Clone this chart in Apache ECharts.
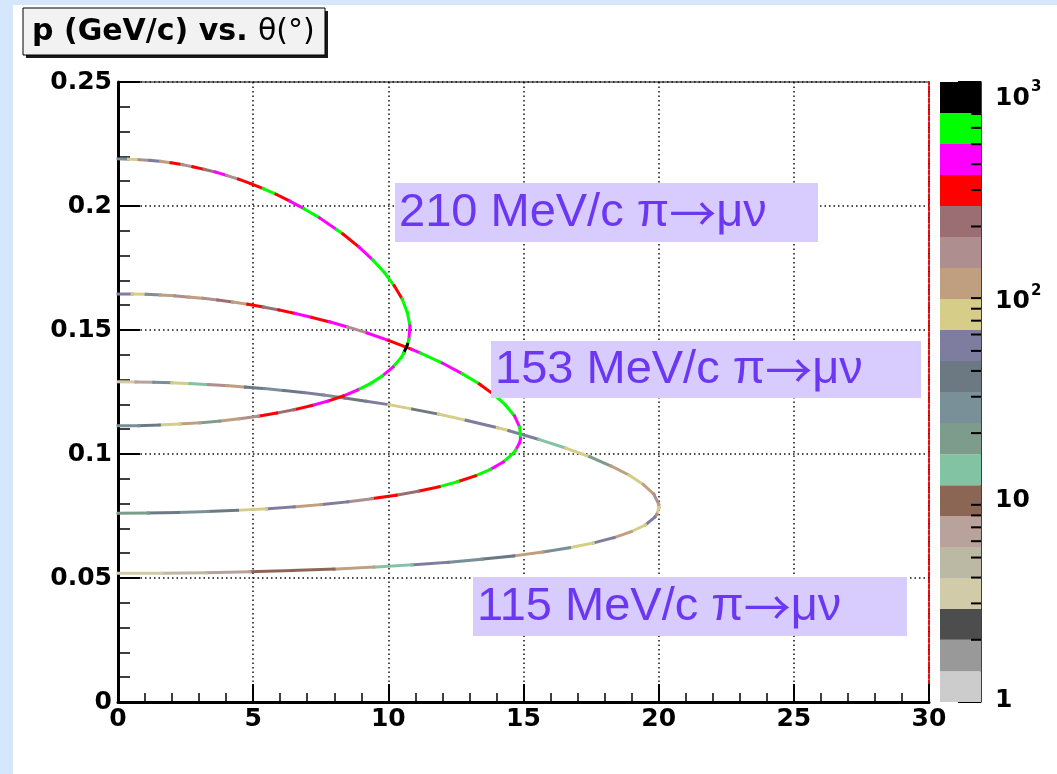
<!DOCTYPE html>
<html>
<head>
<meta charset="utf-8">
<script src="https://cdn.jsdelivr.net/npm/echarts@6/dist/echarts.min.js"></script>
<style>
html,body{margin:0;padding:0;background:#d5e7fb;width:1057px;height:774px;overflow:hidden;}
#bg{position:absolute;left:13px;top:5px;right:0;bottom:0;background:#fff;}
#c{position:absolute;left:0;top:0;width:1057px;height:774px;}
</style>
</head>
<body>
<div id="bg"></div>
<div id="c"></div>
<script>
// ---- data: [theta (deg), p (GeV/c), counts] along each decay curve ----
const curve210 = [
[0,0.2190,27],[0.39,0.2189,75],[0.78,0.2187,150],[1.17,0.2184,53],[1.57,0.2180,105],
[1.96,0.2174,300],[2.36,0.2167,150],[2.77,0.2158,300],[3.18,0.2148,210],[3.60,0.2137,420],
[4.02,0.2123,150],[4.46,0.2108,300],[4.91,0.2090,300],[5.37,0.2070,600],[5.85,0.2047,300],
[6.35,0.2020,420],[6.88,0.1989,600],[7.46,0.1952,420],[8.09,0.1905,600],[8.32,0.1887,300],
[8.91,0.1835,420],[9.42,0.1783,600],[9.86,0.1731,600],[10.22,0.1678,300],[10.51,0.1625,600],
[10.70,0.1571,600],[10.80,0.1517,420],[10.76,0.1462,600],[10.71,0.1442,850],[10.57,0.1407,600],
[10.49,0.1391,600],[10.17,0.1350,420],[9.78,0.1315,600],[9.34,0.1284,600],[8.86,0.1258,420],
[8.33,0.1234,300],[7.76,0.1213,420],[7.16,0.1195,300],[6.53,0.1179,210],[5.87,0.1165,300],
[5.19,0.1152,150],[4.49,0.1142,105],[3.77,0.1133,19],[3.03,0.1126,105],[2.29,0.1121,75],
[1.53,0.1117,38],[0.77,0.1114,27],[0,0.1114,27]
];
const curve153 = [
[0,0.1645,53],[0.52,0.1645,75],[1.04,0.1644,27],[1.56,0.1641,105],[2.09,0.1638,150],
[2.61,0.1633,105],[3.15,0.1628,150],[3.69,0.1621,210],[4.24,0.1613,105],[4.80,0.1604,300],
[5.37,0.1593,210],[5.95,0.1581,300],[6.55,0.1567,420],[7.17,0.1551,300],[7.82,0.1533,420],
[8.50,0.1512,150],[9.22,0.1488,420],[10.00,0.1458,300],[10.87,0.1422,420],[11.19,0.1407,600],
[12.01,0.1366,420],[12.73,0.1324,600],[13.37,0.1282,300],[13.90,0.1240,600],[14.34,0.1197,600],
[14.67,0.1153,420],[14.86,0.1108,600],[14.89,0.1062,420],[14.86,0.1046,420],[14.71,0.1016,600],
[14.62,0.1003,600],[14.25,0.0968,420],[13.78,0.0938,600],[13.22,0.0912,300],[12.58,0.0889,600],
[11.88,0.0868,300],[11.11,0.0850,210],[10.29,0.0834,300],[9.41,0.0820,150],[8.50,0.0807,53],
[7.52,0.0796,105],[6.52,0.0787,53],[5.49,0.0779,75],[4.42,0.0773,38],[3.34,0.0768,27],
[2.23,0.0764,38],[1.12,0.0762,19],[0,0.0761,19]
];
const curve115 = [
[0,0.1291,3.4],[0.66,0.1290,6.7],[1.32,0.1289,27],[1.99,0.1287,75],[2.66,0.1284,13],
[3.34,0.1280,150],[4.02,0.1276,105],[4.71,0.1270,38],[5.41,0.1264,27],[6.13,0.1256,38],
[6.86,0.1248,53],[7.61,0.1238,27],[8.38,0.1226,38],[9.18,0.1213,53],[10.02,0.1199,75],
[10.90,0.1181,38],[11.85,0.1161,75],[12.88,0.1136,53],[14.03,0.1106,75],[14.46,0.1094,53],
[15.56,0.1059,13],[16.56,0.1024,75],[17.45,0.0989,19],[18.23,0.0952,105],[18.90,0.0915,75],
[19.43,0.0877,105],[19.82,0.0838,150],[20.00,0.0798,105],[20.01,0.0784,75],[19.93,0.0757,150],
[19.86,0.0746,53],[19.51,0.0714,75],[18.99,0.0687,105],[18.35,0.0663,53],[17.58,0.0641,75],
[16.70,0.0622,27],[15.72,0.0605,105],[14.64,0.0589,38],[13.47,0.0576,27],[12.21,0.0563,53],
[10.87,0.0553,13],[9.46,0.0544,105],[7.99,0.0536,9.4],[6.46,0.0530,9.4],[4.88,0.0525,6.7],
[3.28,0.0521,4.7],[1.64,0.0519,3.4],[0,0.0519,3.4]
];
// colour scale (log z from 1 to 1000, 20 levels)
const zLevels = [1,1.41,2,2.82,3.98,5.62,7.94,11.2,15.8,22.4,31.6,44.7,63.1,89.1,126,178,251,355,501,708,1000];
const zPalette = ['#cccccc','#999999','#4d4d4d','#d1cba9','#bbb8a4','#b9a19c','#8c6655','#82c3a4','#7e9c8c','#7a9099',
                  '#6c7982','#7f7d9f','#d5cd88','#c09f80','#ae8e8f','#9a6e72','#ff0000','#ff00ff','#00ff00','#000000'];
const zMinorTicks = [2,3,4,5,6,7,8,9,20,30,40,50,60,70,80,90,200,300,400,500,600,700,800,900];
const zTickValues = [1,10,100,1000];
const zTickBase = ['1','10','10','10'];
const zTickExp = ['','','2','3'];
const annotations = [['210 MeV/c π','→','μν'],['153 MeV/c π','→','μν'],['115 MeV/c π','→','μν']];
const titleMain = 'p (GeV/c) vs. ';
const titleTail = 'θ(°)';

// ---- styles / layout (not data) ----
const zLabelShift = [-2, 5, 13, 16];   // ROOT-like vertical label offsets, px
function zColor(v){
  for (let i = 0; i < zPalette.length; i++) if (v < zLevels[i+1]) return zPalette[i];
  return zPalette[zPalette.length-1];
}
function segments(curve){
  const out = [];
  for (let i = 0; i < curve.length-1; i++) out.push([curve[i][0],curve[i][1],curve[i+1][0],curve[i+1][1],curve[i][2]]);
  return out;
}
const segData = [].concat(segments(curve115), segments(curve153), segments(curve210));
const bandData = zLevels.slice(0,-1).map((lo,i)=>[0,lo,1,zLevels[i+1],i]);
const minorData = zMinorTicks.map(v=>[1,v]);
const zLabelData = zTickValues.map((v,i)=>[1,v,i]);

const FONT = '"DejaVu Sans", sans-serif';
const chart = echarts.init(document.getElementById('c'), null, {renderer:'canvas'});
const annoBoxes = [
  {x:395,y:183,w:423,h:59},
  {x:491,y:341,w:430,h:57},
  {x:473,y:577,w:434,h:59}
];
const graphics = [
  {type:'rect', shape:{x:26,y:11,width:302,height:47}, style:{fill:'#1a1a1a'}, z:100},
  {type:'rect', shape:{x:23,y:8,width:302,height:47}, style:{fill:'#f2f2f2', stroke:'#000', lineWidth:1}, z:101},
  {type:'text', x:32, y:32, z:102, style:{text:'{b|'+titleMain+'}{n|'+titleTail+'}', verticalAlign:'middle',
     rich:{b:{fontSize:30,fontWeight:'bold',fontFamily:'DejaVu Sans',fill:'#000'},
           n:{fontSize:30,fontWeight:'normal',fontFamily:'DejaVu Sans',fill:'#000'}}}}
];
annoBoxes.forEach((b,i)=>{
  const t = annotations[i];
  graphics.push({type:'rect', shape:{x:b.x,y:b.y,width:b.w,height:b.h}, style:{fill:'#d8cbfd'}, z:100});
  graphics.push({type:'text', x:b.x+4, y:b.y+b.h/2+1, z:101,
     style:{text:'{a|'+t[0]+'}{r|'+t[1]+'}{a|'+t[2]+'}', verticalAlign:'middle',
       rich:{a:{fontSize:47, fontFamily:'Liberation Sans', fill:'#6c37f3'},
             r:{fontSize:47, fontFamily:'Noto Sans CJK SC', fill:'#6c37f3'}}}});
});

const option = {
  animation:false,
  backgroundColor:'transparent',
  graphic: graphics,
  grid:[
    {left:118, top:82, width:811, height:620, show:true, borderColor:'#000', borderWidth:1, backgroundColor:'transparent'},
    {left:940, top:82, width:41, height:620}
  ],
  xAxis:[
    {gridIndex:0, type:'value', min:0, max:30, interval:5,
     axisLine:{show:true, onZero:false, lineStyle:{color:'#000', width:3}},
     axisTick:{show:true, inside:true, length:18, lineStyle:{color:'#000', width:2}},
     minorTick:{show:true, splitNumber:5, length:9, lineStyle:{color:'#000', width:1.5}},
     axisLabel:{color:'#000', fontFamily:FONT, fontWeight:'bold', fontSize:25, margin:5},
     splitLine:{show:true, lineStyle:{color:'#111', width:1.5, type:[1.5,3]}}},
    {gridIndex:1, type:'value', min:0, max:1, show:false}
  ],
  yAxis:[
    {gridIndex:0, type:'value', min:0, max:0.25, interval:0.05,
     axisLine:{show:true, onZero:false, lineStyle:{color:'#000', width:3}},
     axisTick:{show:true, inside:true, length:22, lineStyle:{color:'#000', width:2}},
     minorTick:{show:true, splitNumber:5, length:12, lineStyle:{color:'#000', width:1.5}},
     axisLabel:{color:'#000', fontFamily:FONT, fontWeight:'bold', fontSize:25, margin:6},
     splitLine:{show:true, lineStyle:{color:'#111', width:1.5, type:[1.5,3]}}},
    {gridIndex:0, type:'value', min:0, max:0.25, position:'right',
     axisLine:{show:true, onZero:false, lineStyle:{color:'#ff0000', width:2, type:[3,3]}},
     axisTick:{show:false}, axisLabel:{show:false}, splitLine:{show:false}},
    {gridIndex:1, type:'log', logBase:10, min:1, max:1000, position:'right',
     axisLine:{show:true, onZero:false, lineStyle:{color:'#000', width:1.5}},
     axisTick:{show:true, inside:true, length:23, lineStyle:{color:'#000', width:2}},
     splitLine:{show:false}, axisLabel:{show:false}}
  ],
  series:[
    {type:'custom', xAxisIndex:0, yAxisIndex:0, data:segData, encode:{x:[0,2], y:[1,3]}, clip:false,
     renderItem:function(params, api){
       const a = api.coord([api.value(0), api.value(1)]);
       const b = api.coord([api.value(2), api.value(3)]);
       return {type:'line', shape:{x1:a[0],y1:a[1],x2:b[0],y2:b[1]},
               style:{stroke:zColor(api.value(4)), lineWidth:3, lineCap:'square'}};
     }},
    {type:'custom', xAxisIndex:1, yAxisIndex:2, data:bandData, encode:{x:[0,2], y:[1,3]},
     renderItem:function(params, api){
       const a = api.coord([api.value(0), api.value(3)]);
       const b = api.coord([api.value(2), api.value(1)]);
       return {type:'rect', shape:{x:a[0], y:a[1], width:b[0]-a[0], height:b[1]-a[1]},
               style:{fill:zPalette[api.value(4)]}};
     }},
    {type:'custom', xAxisIndex:1, yAxisIndex:2, data:minorData, encode:{x:0, y:1}, z:5,
     renderItem:function(params, api){
       const a = api.coord([api.value(0), api.value(1)]);
       return {type:'line', shape:{x1:a[0], y1:a[1], x2:a[0]-10, y2:a[1]},
               style:{stroke:'#000', lineWidth:2}};
     }},
    {type:'custom', xAxisIndex:1, yAxisIndex:2, data:zLabelData, encode:{x:0, y:1}, z:5, clip:false,
     renderItem:function(params, api){
       const i = api.value(2);
       const a = api.coord([api.value(0), api.value(1)]);
       const x0 = a[0] + 14, y0 = a[1] + zLabelShift[i];
       const children = [{type:'text', x:x0, y:y0,
         style:{text:zTickBase[i], fontFamily:'DejaVu Sans', fontWeight:'bold', fontSize:25, fill:'#000', verticalAlign:'middle', align:'left'}}];
       if (zTickExp[i]) children.push({type:'text', x:x0+36, y:y0-11,
         style:{text:zTickExp[i], fontFamily:'DejaVu Sans', fontWeight:'bold', fontSize:15, fill:'#000', verticalAlign:'middle', align:'left'}});
       return {type:'group', children:children};
     }}
  ]
};
chart.setOption(option);
</script>
</body>
</html>
